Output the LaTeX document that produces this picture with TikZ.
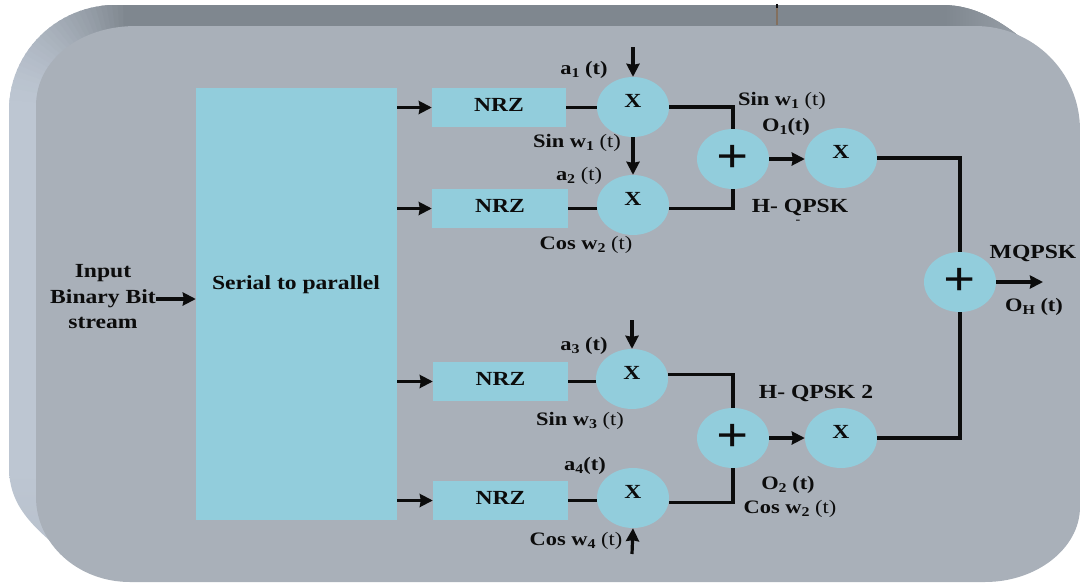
\documentclass[tikz,border=0pt]{standalone}
\usepackage{fontspec}
\setmainfont{Liberation Serif}[FakeStretch=1.18]
\usetikzlibrary{shapes.geometric,arrows.meta}
\newcommand{\idx}[1]{\raisebox{-2.5pt}{\fontsize{13.5}{14}\selectfont #1}}
\definecolor{frontc}{HTML}{A9B0B9}
\definecolor{cyanc}{HTML}{92CDDC}
\definecolor{bandtop}{HTML}{7F878F}
\definecolor{bandleft}{HTML}{BDC6D2}
\definecolor{inkc}{HTML}{0C0C0C}
\tikzset{
  bigtxt/.style={font=\fontsize{20}{25.5}\selectfont\bfseries,text=inkc,inner sep=0pt,align=center},
  lab/.style={font=\fontsize{19}{23}\selectfont\bfseries,text=inkc,inner sep=0pt},
  blockbox/.style={fill=cyanc,inner sep=0pt,font=\fontsize{20}{24}\selectfont\bfseries,text=inkc,text height=13pt,text depth=6pt},
  mult/.style={ellipse,fill=cyanc,minimum width=72pt,minimum height=60pt,inner sep=0pt,
    font=\fontsize{20}{24}\selectfont\bfseries,text=inkc,text height=11pt,text depth=11pt},
  summer/.style={ellipse,fill=cyanc,minimum width=72pt,minimum height=60pt,inner sep=0pt,
    font=\fontsize{48}{48}\selectfont\bfseries,text=inkc,text height=26pt,text depth=0pt},
  wire/.style={draw=inkc,line width=3.4pt,line join=miter},
  arrowline/.style={draw=inkc,line width=3.2pt,-{Stealth[length=13pt,width=13pt,inset=1pt]}}
}
\begin{document}
\begin{tikzpicture}[x=1pt,y=-1pt]
\useasboundingbox (0,0) rectangle (1080,582);
% bevelled back plate
\begin{scope}
  \clip (9,470) -- (9,110) .. controls (9,52) and (57,5) .. (115,5) -- (943,5)
     .. controls (975,5) and (1005,22) .. (1035,50) -- (1035,400) -- (100,560)
     .. controls (70,550) and (60,550) .. (55,545) .. controls (25,520) and (10,500) .. (9,470) -- cycle;
  \fill[bandtop] (100,0) rectangle (1080,60);
  \fill[bandleft] (0,100) rectangle (60,470);
  \foreach \a in {0,3,...,90}{
    \pgfmathtruncatemacro{\mixv}{100*pow(\a/90,1.6)}
    \fill[bandtop!\mixv!bandleft] (125,110) -- ++({-170*cos(\a-1)},{-170*sin(\a-1)}) -- ++({-170*cos(\a+3)+170*cos(\a-1)},{-170*sin(\a+3)+170*sin(\a-1)}) -- cycle;
  }
  \shade[top color=bandleft,bottom color=bandleft!75!frontc] (0,470) rectangle (70,560);
  \shade[left color=bandtop,right color=bandtop!35!frontc] (945,0) rectangle (1030,50);
\end{scope}
\fill[frontc] (36,106) .. controls (36,60) and (80,26) .. (136,26) -- (975,26)
   .. controls (1033,26) and (1080,72) .. (1080,130) -- (1080,507)
   .. controls (1080,548) and (1037,582) .. (985,582) -- (130,582)
   .. controls (78,582) and (36,544) .. (36,497) -- cycle;
\draw[draw=inkc,line width=1.5pt] (777,4) -- (777,8);
\draw[draw=black!45!brown!60!frontc,line width=1.5pt] (777,8) -- (777,25);
% blocks
\node[blockbox,minimum width=201pt,minimum height=432pt] (sp) at (296.5,304) {};
\node[bigtxt] (sptxt) at (296,285) {Serial to parallel};
\node[blockbox,minimum width=134pt,minimum height=39pt] (n1) at (499,107.5) {NRZ};
\node[blockbox,minimum width=136pt,minimum height=39pt] (n2) at (500,208.5) {NRZ};
\node[blockbox,minimum width=135pt,minimum height=39pt] (n3) at (500.5,381.5) {NRZ};
\node[blockbox,minimum width=135pt,minimum height=39pt] (n4) at (500.5,500.5) {NRZ};
\node[mult] (x1) at (633,107) {X};
\node[mult] (x2) at (633,205) {X};
\node[mult] (x3) at (632,379) {X};
\node[mult] (x4) at (633,498) {X};
\node[mult] (x5) at (841,158) {X};
\node[mult] (x6) at (841,438) {X};
\node[summer] (p1) at (733,159) {+};
\node[summer] (p2) at (733,438) {+};
\node[summer] (p3) at (960,282) {+};
% free ends
\coordinate (in) at (156,299);
\coordinate (c1) at (633,47);
\coordinate (c3) at (632,320);
\coordinate (c4) at (632,554);
\coordinate (out) at (1043,282);
% connectors
\draw[wire] (n1.east) -- (x1.west |- n1.east);
\draw[wire] (n2.east) -- (x2.west |- n2.east);
\draw[wire] (n3.east) -- (x3.west |- n3.east);
\draw[wire] (n4.east) -- (x4.west |- n4.east);
\draw[wire] (x1.east) -| (p1.north);
\draw[wire] ([yshift=-3.5pt]x2.east) -| (p1.south);
\draw[wire] ([yshift=4.5pt]x3.east) -| (p2.north);
\draw[wire] ([yshift=-4.5pt]x4.east) -| (p2.south);
\draw[wire] (x5.east) -| (p3.north);
\draw[wire] (x6.east) -| (p3.south);
\draw[arrowline] (in) -- (sp.west |- in);
\draw[arrowline] (sp.east |- n1.west) -- (n1.west);
\draw[arrowline] (sp.east |- n2.west) -- (n2.west);
\draw[arrowline] (sp.east |- n3.west) -- (n3.west);
\draw[arrowline] (sp.east |- n4.west) -- (n4.west);
\draw[arrowline] (c1) -- (x1.north);
\draw[arrowline] (x1.south) -- (x2.north);
\draw[arrowline] (c3) -- (x3.north);
\draw[arrowline] (c4) -- (x4.south);
\draw[arrowline] (p1.east) -- (x5.west |- p1.east);
\draw[arrowline] (p2.east) -- (x6.west);
\draw[arrowline] (p3.east) -- (out);
% labels
\node[bigtxt] (inp) at (103,297) {Input\\Binary Bit\\stream};
\node[lab] (l1) at (584,70) {a\idx{1} (t)};
\node[lab] (l2) at (577,143) {Sin w\idx{1} {\mdseries(t)}};
\node[lab] (l3) at (579,176) {a\idx{2} {\mdseries(t)}};
\node[lab] (l4) at (586,245) {Cos w\idx{2} {\mdseries(t)}};
\node[lab] (l5) at (782,101) {Sin w\idx{1} {\mdseries(t)}};
\node[lab] (l6) at (786,127) {O\idx{1}(t)};
\node[bigtxt] (l7) at (800,207) {H- QPSK};
\node[lab] (l7b) at (798,222) {\fontsize{12}{12}\selectfont -};
\node[lab] (l8) at (584,346) {a\idx{3} (t)};
\node[lab] (l9) at (580,421) {Sin w\idx{3} {\mdseries(t)}};
\node[lab] (l10) at (585,466) {a\idx{4}(t)};
\node[lab] (l11) at (576,541) {Cos w\idx{4} {\mdseries(t)}};
\node[bigtxt] (l12) at (816,393) {H- QPSK 2};
\node[lab] (l13) at (788,485) {O\idx{2} (t)};
\node[lab] (l14) at (790,509) {Cos w\idx{2} {\mdseries(t)}};
\node[bigtxt] (l15) at (1033,253) {MQPSK};
\node[lab] (l16) at (1034,307) {O\idx{H} (t)};
\end{tikzpicture}
\end{document}
